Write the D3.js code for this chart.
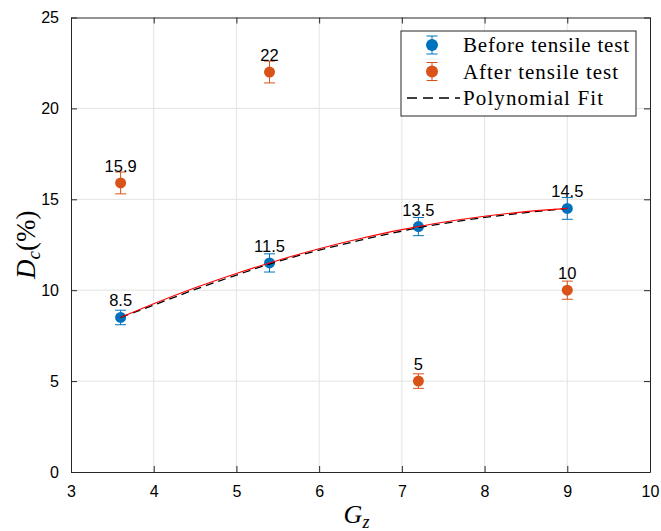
<!DOCTYPE html>
<html>
<head>
<meta charset="utf-8">
<script src="https://cdn.jsdelivr.net/npm/d3@7"></script>
<style>
  body { margin: 0; background: #fff; }
  svg { display: block; }
</style>
</head>
<body>
<div id="container"></div>
<script>
// data
const gz = [3.6, 5.4, 7.2, 9];
const before = [8.5, 11.5, 13.5, 14.5];
const beforeErr = [0.4, 0.5, 0.5, 0.6];
const after = [15.9, 22, 5, 10];
const afterErr = [0.6, 0.6, 0.4, 0.5];
const beforeLabels = ["8.5", "11.5", "13.5", "14.5"];
const afterLabels = ["15.9", "22", "5", "10"];

const fitX = [3.6, 4, 4.5, 5, 5.4, 6, 6.5, 7, 7.2, 7.5, 8, 8.5, 9];
const fitRed = [8.5, 9.25, 10.13, 10.92, 11.5, 12.28, 12.84, 13.33, 13.5, 13.74, 14.07, 14.32, 14.5];
const fitDash = [8.5, 9.18, 10.04, 10.83, 11.44, 12.2, 12.75, 13.25, 13.44, 13.67, 14.0, 14.27, 14.5];

const xTicks = [3, 4, 5, 6, 7, 8, 9, 10];
const yTicks = [0, 5, 10, 15, 20, 25];

const legendItems = ["Before tensile test", "After tensile test", "Polynomial Fit"];

const width = 661;
const height = 531;
const marginTop = 17.5;
const marginRight = 11;
const marginBottom = 59;
const marginLeft = 71;

const blue = "#0072BD";
const orange = "#D95319";
const axisColor = "#262626";

const x = d3.scaleLinear([3, 10], [marginLeft, width - marginRight]);
const y = d3.scaleLinear([0, 25], [height - marginBottom, marginTop]);

const svg = d3.create("svg")
    .attr("width", width)
    .attr("height", height)
    .attr("viewBox", [0, 0, width, height]);

// grid
svg.append("g")
    .attr("stroke", "#e3e3e3")
    .attr("stroke-width", 1)
    .call(g => g.selectAll("line.v").data(xTicks.slice(1, -1)).join("line")
        .attr("x1", d => x(d)).attr("x2", d => x(d))
        .attr("y1", y(0)).attr("y2", y(25)))
    .call(g => g.selectAll("line.h").data(yTicks.slice(1, -1)).join("line")
        .attr("class", "h")
        .attr("x1", x(3)).attr("x2", x(10))
        .attr("y1", d => y(d)).attr("y2", d => y(d)));

// axes (ticks inside, box on)
svg.append("g")
    .attr("transform", `translate(0,${y(0)})`)
    .call(d3.axisBottom(x).tickValues(xTicks).tickFormat(d3.format("d")).tickSize(-6).tickPadding(14).tickSizeOuter(0))
    .call(g => g.selectAll("text").attr("font-size", 16));
svg.append("g")
    .attr("transform", `translate(0,${y(25)})`)
    .call(d3.axisTop(x).tickValues(xTicks).tickSize(-6).tickFormat("").tickSizeOuter(0));
svg.append("g")
    .attr("transform", `translate(${x(3)},0)`)
    .call(d3.axisLeft(y).tickValues(yTicks).tickSize(-6).tickPadding(12).tickSizeOuter(0))
    .call(g => g.selectAll("text").attr("font-size", 16));
svg.append("g")
    .attr("transform", `translate(${x(10)},0)`)
    .call(d3.axisRight(y).tickValues(yTicks).tickSize(-6).tickFormat("").tickSizeOuter(0));

svg.selectAll(".domain, .tick line").attr("stroke", axisColor);
svg.selectAll(".tick text")
    .attr("fill", "#000")
    .attr("font-family", "'Liberation Sans', Arial, sans-serif");

// error bars + points
function drawSeries(vals, errs, color) {
    const g = svg.append("g");
    const d = gz.map((gx, i) => ({gx, v: vals[i], e: errs[i]}));
    g.selectAll("line.bar").data(d).join("line")
        .attr("x1", p => x(p.gx)).attr("x2", p => x(p.gx))
        .attr("y1", p => y(p.v - p.e)).attr("y2", p => y(p.v + p.e))
        .attr("stroke", color).attr("stroke-width", 1);
    g.selectAll("line.capT").data(d).join("line")
        .attr("x1", p => x(p.gx) - 5.5).attr("x2", p => x(p.gx) + 5.5)
        .attr("y1", p => y(p.v + p.e)).attr("y2", p => y(p.v + p.e))
        .attr("stroke", color).attr("stroke-width", 1);
    g.selectAll("line.capB").data(d).join("line")
        .attr("x1", p => x(p.gx) - 5.5).attr("x2", p => x(p.gx) + 5.5)
        .attr("y1", p => y(p.v - p.e)).attr("y2", p => y(p.v - p.e))
        .attr("stroke", color).attr("stroke-width", 1);
    g.selectAll("circle").data(d).join("circle")
        .attr("cx", p => x(p.gx)).attr("cy", p => y(p.v))
        .attr("r", 5.5).attr("fill", color);
}
drawSeries(before, beforeErr, blue);
drawSeries(after, afterErr, orange);

// fit lines
const line = d3.line().x((d, i) => x(fitX[i])).y(d => y(d)).curve(d3.curveMonotoneX);
svg.append("path")
    .attr("fill", "none")
    .attr("stroke", "#000")
    .attr("stroke-width", 1.3)
    .attr("stroke-dasharray", "8,5")
    .attr("d", line(fitDash));
svg.append("path")
    .attr("fill", "none")
    .attr("stroke", "#ff0000")
    .attr("stroke-width", 1.1)
    .attr("d", line(fitRed));

// data labels
const labels = gz.map((gx, i) => ({gx, v: before[i], t: beforeLabels[i]}))
    .concat(gz.map((gx, i) => ({gx, v: after[i], t: afterLabels[i]})));
svg.append("g")
    .attr("font-family", "'Liberation Sans', Arial, sans-serif")
    .attr("font-size", 16.5)
    .attr("text-anchor", "middle")
    .selectAll("text").data(labels).join("text")
    .attr("x", d => x(d.gx))
    .attr("y", d => y(d.v) - 11)
    .text(d => d.t);

// axis labels
svg.append("text")
    .attr("x", (x(3) + x(10)) / 2 - 4)
    .attr("y", 523)
    .attr("text-anchor", "middle")
    .attr("font-family", "'Liberation Serif', 'Times New Roman', serif")
    .attr("font-size", 26)
    .call(t => t.append("tspan").attr("font-style", "italic").text("G"))
    .call(t => t.append("tspan").attr("font-style", "italic").attr("font-size", 18).attr("dy", 5).text("z"));

svg.append("text")
    .attr("transform", `translate(35,${(y(0) + y(25)) / 2}) rotate(-90)`)
    .attr("text-anchor", "middle")
    .attr("font-family", "'Liberation Serif', 'Times New Roman', serif")
    .attr("font-size", 27)
    .call(t => t.append("tspan").attr("font-style", "italic").text("D"))
    .call(t => t.append("tspan").attr("font-style", "italic").attr("font-size", 19).attr("dy", 5).text("c"))
    .call(t => t.append("tspan").attr("dy", -5).text("(%)"));

// legend
const legend = svg.append("g").attr("transform", "translate(401,31)");
legend.append("rect")
    .attr("width", 235).attr("height", 85)
    .attr("fill", "#fff").attr("stroke", axisColor).attr("stroke-width", 1);
const rowY = [14, 40.5, 67];
[blue, orange].forEach((c, i) => {
    const cy = rowY[i];
    legend.append("line").attr("x1", 31).attr("x2", 31).attr("y1", cy - 9).attr("y2", cy + 9)
        .attr("stroke", c).attr("stroke-width", 1);
    legend.append("line").attr("x1", 25.5).attr("x2", 36.5).attr("y1", cy - 9).attr("y2", cy - 9)
        .attr("stroke", c).attr("stroke-width", 1);
    legend.append("line").attr("x1", 25.5).attr("x2", 36.5).attr("y1", cy + 9).attr("y2", cy + 9)
        .attr("stroke", c).attr("stroke-width", 1);
    legend.append("circle").attr("cx", 31).attr("cy", cy).attr("r", 6).attr("fill", c);
});
legend.append("line")
    .attr("x1", 6).attr("x2", 59).attr("y1", rowY[2]).attr("y2", rowY[2])
    .attr("stroke", "#000").attr("stroke-width", 1.3).attr("stroke-dasharray", "10,6");
legend.selectAll("text.item").data(legendItems).join("text")
    .attr("x", 62)
    .attr("y", (d, i) => rowY[i] + 7)
    .attr("font-family", "'Liberation Serif', 'Times New Roman', serif")
    .attr("font-size", 21)
    .attr("textLength", (d, i) => [166, 155, 140][i])
    .text(d => d);

document.getElementById("container").append(svg.node());
</script>
</body>
</html>
